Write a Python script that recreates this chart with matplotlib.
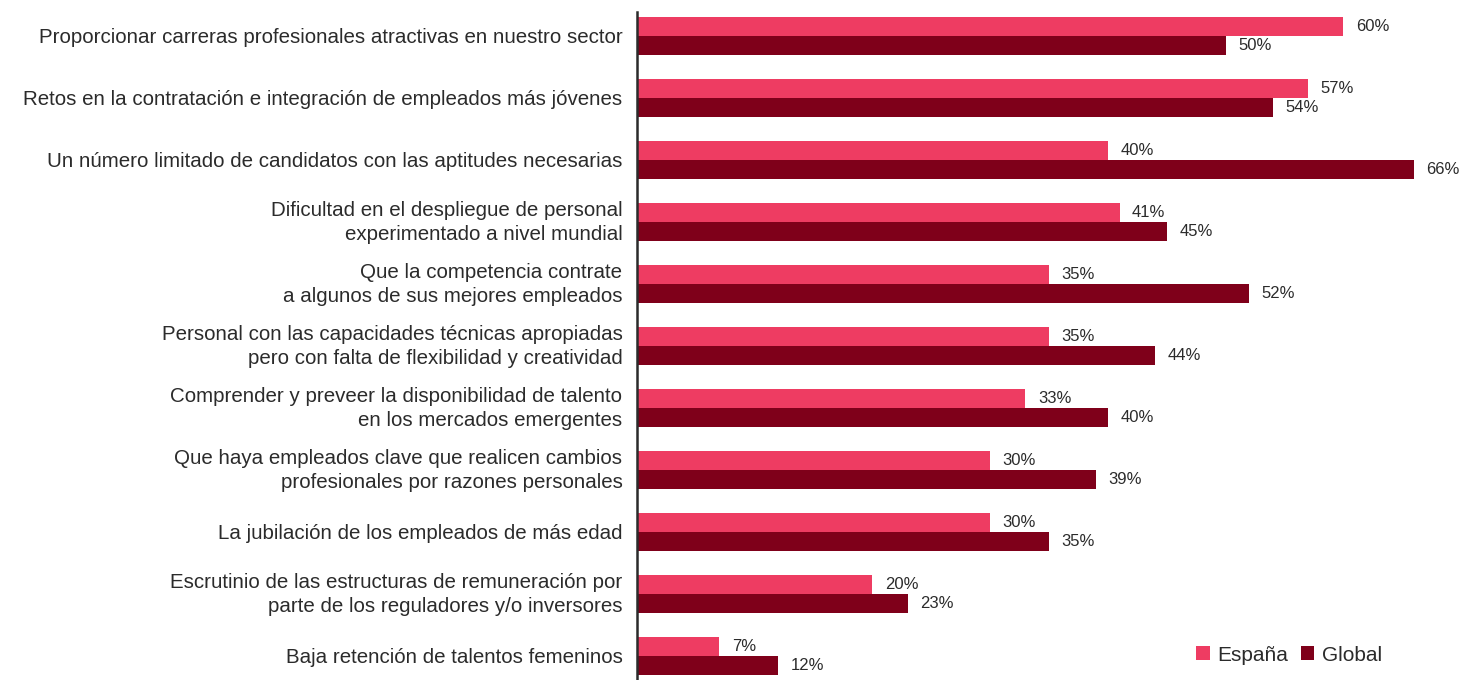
import matplotlib.pyplot as plt
import matplotlib.transforms as mtransforms
import numpy as np

plt.rcParams['font.family'] = ['Liberation Sans', 'DejaVu Sans']

categorias = [
    "Proporcionar carreras profesionales atractivas en nuestro sector",
    "Retos en la contratación e integración de empleados más jóvenes",
    "Un número limitado de candidatos con las aptitudes necesarias",
    "Dificultad en el despliegue de personal\nexperimentado a nivel mundial",
    "Que la competencia contrate\na algunos de sus mejores empleados",
    "Personal con las capacidades técnicas apropiadas\npero con falta de flexibilidad y creatividad",
    "Comprender y preveer la disponibilidad de talento\nen los mercados emergentes",
    "Que haya empleados clave que realicen cambios\nprofesionales por razones personales",
    "La jubilación de los empleados de más edad",
    "Escrutinio de las estructuras de remuneración por\nparte de los reguladores y/o inversores",
    "Baja retención de talentos femeninos",
]
espana = [60, 57, 40, 41, 35, 35, 33, 30, 30, 20, 7]
global_ = [50, 54, 66, 45, 52, 44, 40, 39, 35, 23, 12]

c_esp = '#EE3C62'
c_glo = '#7F001A'
txt = '#2b2b2b'

fig = plt.figure(figsize=(14.7, 6.8), dpi=100)
ax = fig.add_axes([637/1470, 0, (1465-637)/1470, 1 - 12/680])

y = np.arange(len(categorias))
h = 0.306
ax.barh(y - h/2, espana, height=h, color=c_esp, label='España')
ax.barh(y + h/2, global_, height=h, color=c_glo, label='Global')

for i in range(len(categorias)):
    ax.annotate(f"{espana[i]}%", (espana[i], y[i] - h/2), xytext=(9, 0),
                textcoords='offset points', va='center', ha='left',
                fontsize=12, color=txt)
    ax.annotate(f"{global_[i]}%", (global_[i], y[i] + h/2), xytext=(9, 0),
                textcoords='offset points', va='center', ha='left',
                fontsize=12, color=txt)

ax.set_yticks(y)
ax.set_yticklabels(categorias, fontsize=14.8, color=txt, linespacing=1.38)
ax.tick_params(axis='y', length=0, pad=10.5)
# two-line labels sit a little above the row centre
up = mtransforms.ScaledTranslation(0, 3/72, fig.dpi_scale_trans)
for lbl in ax.get_yticklabels():
    if '\n' in lbl.get_text():
        lbl.set_transform(lbl.get_transform() + up)
ax.set_xticks([])
ax.set_xlim(0, (1465-637)/11.77)
ax.set_ylim(10.39, -0.387)

for s in ['top', 'right', 'bottom']:
    ax.spines[s].set_visible(False)
ax.spines['left'].set_color('#2b2b2b')
ax.spines['left'].set_linewidth(1.8)

leg = ax.legend(loc='lower right', bbox_to_anchor=(0.922, -0.005), ncol=2,
                frameon=False, fontsize=15, handlelength=0.65, handleheight=0.65,
                handletextpad=0.35, columnspacing=0.6)
for t in leg.get_texts():
    t.set_color(txt)

fig.savefig('out.png', dpi=100)
